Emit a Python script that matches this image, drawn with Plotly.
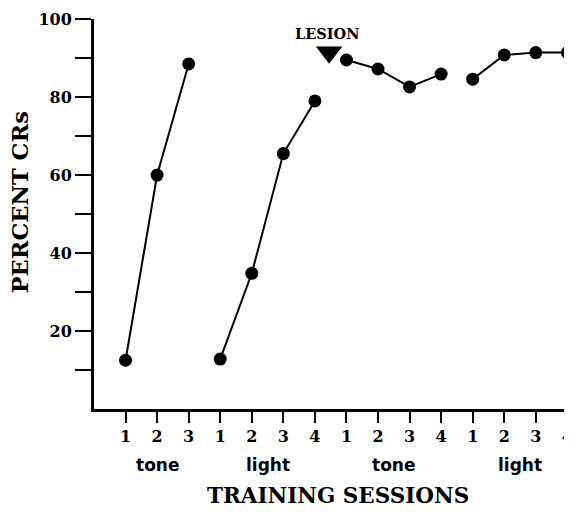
import plotly.graph_objects as go

# ---- data ----
tone_pre_x = [1, 2, 3]
tone_pre_y = [12.5, 60, 88.5]
light_pre_x = [4, 5, 6, 7]
light_pre_y = [12.8, 34.8, 65.5, 79]
tone_post_x = [8, 9, 10, 11]
tone_post_y = [89.5, 87.2, 82.6, 85.9]
light_post_x = [12, 13, 14, 15]
light_post_y = [84.6, 90.8, 91.4, 91.4]

session_ticks = list(range(1, 16))
session_labels = ["1", "2", "3", "1", "2", "3", "4", "1", "2", "3", "4", "1", "2", "3", "4"]
y_tickvals = [10, 20, 30, 40, 50, 60, 70, 80, 90, 100]
y_ticktext = ["", "20", "", "40", "", "60", "", "80", "", "100"]
group_names = ["tone", "light", "tone", "light"]
group_centers = [2, 5.5, 9.5, 13.5]
lesion_x = 7.45
lesion_y = 91.5

SERIF = "DejaVu Serif"
SANS = "DejaVu Sans"

fig = go.Figure()
for xs, ys in [(tone_pre_x, tone_pre_y), (light_pre_x, light_pre_y),
               (tone_post_x, tone_post_y), (light_post_x, light_post_y)]:
    fig.add_trace(go.Scatter(x=xs, y=ys, mode="lines+markers",
                             line=dict(color="black", width=2),
                             marker=dict(color="black", size=13),
                             cliponaxis=False, showlegend=False))

fig.add_trace(go.Scatter(x=[lesion_x], y=[lesion_y], mode="markers",
                         marker=dict(symbol="triangle-down", color="black", size=23),
                         cliponaxis=False, showlegend=False))

fig.add_annotation(x=7.37, y=96.4, xref="x", yref="y", text="LESION", showarrow=False,
                   font=dict(family=SERIF, size=14.5, color="black", weight="bold"))

for name, cx in zip(group_names, group_centers):
    fig.add_annotation(x=cx, y=-0.144, xref="x", yref="paper", text=name, showarrow=False,
                       yanchor="middle",
                       font=dict(family=SANS, size=17, color="black", weight="bold"))

fig.add_annotation(x=0.514, y=-0.221, xref="paper", yref="paper", text="TRAINING SESSIONS",
                   showarrow=False, yanchor="middle",
                   font=dict(family=SERIF, size=21.5, color="black", weight="bold"))
fig.add_annotation(x=-0.156, y=0.53, xref="paper", yref="paper", text="PERCENT CRs",
                   showarrow=False, textangle=-90, xanchor="center", yanchor="middle",
                   font=dict(family=SERIF, size=22.5, color="black", weight="bold"))

fig.update_xaxes(range=[0, 15.02], showline=True, linecolor="black", linewidth=3,
                 showgrid=False, zeroline=False, ticks="outside", ticklen=11, tickwidth=2,
                 tickcolor="black", tickmode="array", tickvals=session_ticks,
                 ticktext=session_labels, automargin=False, ticklabeloverflow="allow",
                 tickfont=dict(family=SERIF, size=16, color="black", weight="bold"))
fig.update_yaxes(range=[0, 100.02], showline=True, linecolor="black", linewidth=3,
                 showgrid=False, zeroline=False, ticks="outside", ticklen=16, tickwidth=2,
                 tickcolor="black", tickmode="array", tickvals=y_tickvals,
                 ticktext=y_ticktext, automargin=False,
                 tickfont=dict(family=SERIF, size=16, color="black", weight="bold"))

# page body has an 8px default margin, so offset the figure accordingly
fig.update_layout(width=564, height=504, margin=dict(l=86, r=4, t=11, b=103),
                  plot_bgcolor="white", paper_bgcolor="white")

fig.write_html("out.html")
